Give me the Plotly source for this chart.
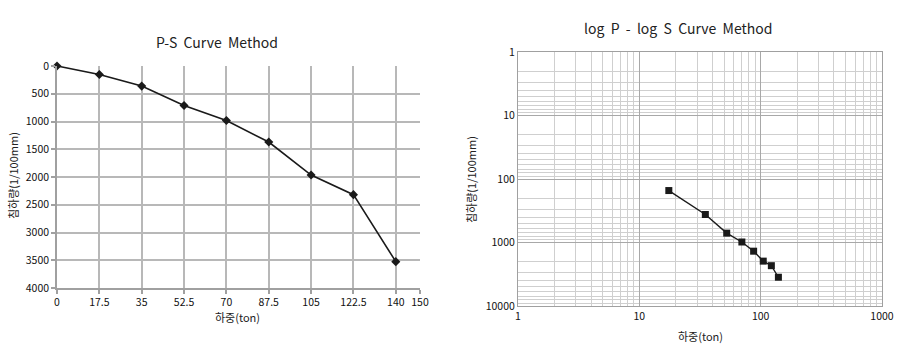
import plotly.graph_objects as go

# Data
load_ton = [0, 17.5, 35, 52.5, 70, 87.5, 105, 122.5, 140]
settle = [0, 152, 362, 712, 982, 1370, 1965, 2318, 3525]
lin_xticks = [0, 17.5, 35, 52.5, 70, 87.5, 105, 122.5, 140, 150]
lin_yticks = [0, 500, 1000, 1500, 2000, 2500, 3000, 3500, 4000]
log_ticks = [1, 10, 100, 1000, 10000]
log_minor = [m * 10 ** d for d in range(0, 4) for m in range(2, 10)]

W, H = 900, 361
FONT = "Noto Sans CJK KR"

def px(x): return x / W
def py(y): return 1 - y / H

fig = go.Figure()

fig.add_trace(go.Scatter(
    x=load_ton, y=settle, mode="lines+markers", cliponaxis=False,
    line=dict(color="#1a1a1a", width=1.6),
    marker=dict(symbol="diamond", size=7, color="#1a1a1a"),
    xaxis="x", yaxis="y", showlegend=False))

fig.add_trace(go.Scatter(
    x=load_ton[1:], y=settle[1:], mode="lines+markers", cliponaxis=False,
    line=dict(color="#1a1a1a", width=1.4),
    marker=dict(symbol="square", size=7, color="#1a1a1a"),
    xaxis="x2", yaxis="y2", showlegend=False))

tickfont = dict(family=FONT, size=10.5, color="#111")
fig.update_layout(
    width=W, height=H, margin=dict(l=0, r=0, t=0, b=0, pad=0),
    paper_bgcolor="white", plot_bgcolor="white",
    font=dict(family=FONT, color="#222"),
    xaxis=dict(domain=[px(57), px(420)], range=[0, 150], tickmode="array",
               tickvals=lin_xticks, ticktext=[f"{v:g}" for v in lin_xticks],
               showgrid=True, gridcolor="#b8b8b8", gridwidth=1.6,
               showline=True, linecolor="#a0a0a0", linewidth=1.6,
               ticks="outside", ticklen=4, tickcolor="#a0a0a0", tickwidth=1.5,
               tickfont=tickfont, zeroline=False, anchor="y", automargin=False),
    yaxis=dict(domain=[py(288), py(66)], range=[4000, 0], tickmode="array",
               tickvals=lin_yticks, showgrid=True, gridcolor="#b8b8b8", gridwidth=1.6,
               showline=True, linecolor="#a0a0a0", linewidth=1.6,
               ticks="outside", ticklen=4, tickcolor="#a0a0a0", tickwidth=1.5,
               tickfont=tickfont, zeroline=False, anchor="x", automargin=False),
    xaxis2=dict(domain=[px(518), px(882)], type="log", range=[0, 3],
                tickmode="array", tickvals=log_ticks[:4], ticktext=[str(v) for v in log_ticks[:4]],
                showgrid=True, gridcolor="#a8a8a8", gridwidth=1.3,
                minor=dict(tickmode="array", tickvals=log_minor, showgrid=True,
                           gridcolor="#cfcfcf", gridwidth=1.1),
                showline=True, linecolor="#a0a0a0", linewidth=1.2, mirror=True,
                ticks="", tickfont=tickfont, zeroline=False, anchor="y2", automargin=False),
    yaxis2=dict(domain=[py(306), py(52)], type="log", range=[4, 0],
                tickmode="array", tickvals=log_ticks, ticktext=[str(v) for v in log_ticks],
                showgrid=True, gridcolor="#a8a8a8", gridwidth=1.3,
                minor=dict(tickmode="array", tickvals=log_minor, showgrid=True,
                           gridcolor="#cfcfcf", gridwidth=1.1),
                showline=True, linecolor="#a0a0a0", linewidth=1.2, mirror=True,
                ticks="", tickfont=tickfont, zeroline=False, anchor="x2", automargin=False),
)

ann = [
    dict(text="P-S  Curve  Method", x=px(217), y=py(42), size=14),
    dict(text="log  P  -  log  S  Curve  Method", x=px(678), y=py(28), size=14),
    dict(text="하중(ton)", x=px(238), y=py(317), size=11),
    dict(text="하중(ton)", x=px(700), y=py(336), size=11),
    dict(text="침하량(1/100mm)", x=px(13), y=py(176), size=11, angle=-90),
    dict(text="침하량(1/100mm)", x=px(471), y=py(180), size=11, angle=-90),
]
for a in ann:
    fig.add_annotation(text=a["text"], x=a["x"], y=a["y"], xref="paper", yref="paper",
                       showarrow=False, xanchor="center", yanchor="middle",
                       textangle=a.get("angle", 0),
                       font=dict(family=FONT, size=a["size"], color="#222"))

fig.write_html("out.html")
